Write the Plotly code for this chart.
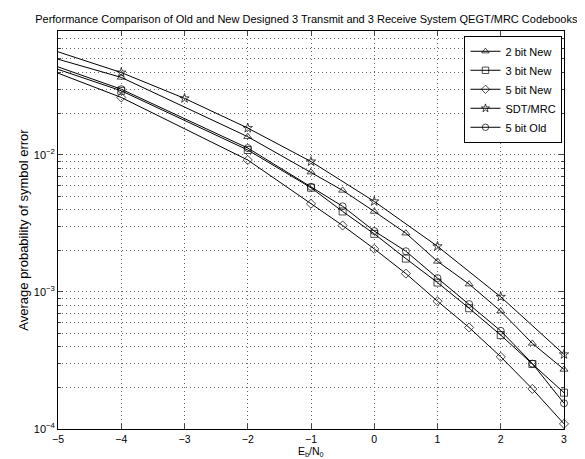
import plotly.graph_objects as go

# ---- data ----
x_2bit = [-5, -4, -2, -1, -0.5, 0, 0.5, 1, 1.5, 2, 2.5, 3]
y_2bit = [0.0498, 0.0367, 0.01355, 0.00747, 0.00550, 0.00386, 0.00268, 0.00167, 0.00114, 0.000724, 0.000421, 0.000272]

x_3bit = [-5, -4, -2, -1, -0.5, 0, 0.5, 1, 1.5, 2, 2.5, 3]
y_3bit = [0.0420, 0.0293, 0.01084, 0.00575, 0.00386, 0.00265, 0.00175, 0.00117, 0.000760, 0.000484, 0.000298, 0.000184]

x_5bit = [-5, -4, -2, -1, -0.5, 0, 0.5, 1, 1.5, 2, 2.5, 3]
y_5bit = [0.0394, 0.0262, 0.00916, 0.00439, 0.00305, 0.00206, 0.00136, 0.000855, 0.000550, 0.000336, 0.000196, 0.000109]

x_sdt = [-5, -4, -3, -2, -1, 0, 1, 2, 3]
y_sdt = [0.0564, 0.0398, 0.0258, 0.01567, 0.00893, 0.00457, 0.00215, 0.000920, 0.000350]

x_5old = [-5, -4, -2, -1, -0.5, 0, 0.5, 1, 1.5, 2, 2.5, 3]
y_5old = [0.0438, 0.0301, 0.0112, 0.00585, 0.00421, 0.00278, 0.00198, 0.00126, 0.000815, 0.000520, 0.000300, 0.000154]

series_names = ["2 bit New", "3 bit New", "5 bit New", "SDT/MRC", "5 bit Old"]
series_symbols = ["triangle-up-open", "square-open", "diamond-open", "star-open", "circle-open"]
series_x = [x_2bit, x_3bit, x_5bit, x_sdt, x_5old]
series_y = [y_2bit, y_3bit, y_5bit, y_sdt, y_5old]

x_ticks = [-5, -4, -3, -2, -1, 0, 1, 2, 3]
y_major = [1e-4, 1e-3, 1e-2]
y_major_text = ["10<sup>\u22124</sup>", "10<sup>\u22123</sup>", "10<sup>\u22122</sup>"]
y_minor = [m * d for d in (1e-4, 1e-3, 1e-2) for m in range(2, 10)]

fig = go.Figure()
for name, xs, ys, sym in zip(series_names, series_x, series_y, series_symbols):
    sizes = [0 if xv == -5 else 7 for xv in xs]
    fig.add_trace(go.Scatter(
        x=xs, y=ys, name=name, mode="lines+markers",
        line=dict(color="black", width=1),
        marker=dict(symbol=sym, size=sizes, color="black", line=dict(width=1, color="black")),
        cliponaxis=False,
    ))

font = "Liberation Sans, Arial, Helvetica, sans-serif"
grid_col = "#666"
grid_dash = "1px,3px"

fig.update_layout(
    width=585, height=459,
    margin=dict(l=50, r=29, t=23, b=38),
    paper_bgcolor="white", plot_bgcolor="white",
    font=dict(family=font, size=11, color="black"),
    title=dict(text="Performance Comparison of Old and New Designed 3 Transmit and 3 Receive System QEGT/MRC Codebooks",
               x=0.51, xref="container", xanchor="center", y=0.975, yref="container", yanchor="middle",
               font=dict(size=11)),
    showlegend=True,
    legend=dict(x=0.997, xanchor="right", y=0.988, yanchor="top",
                bordercolor="black", borderwidth=1, bgcolor="white",
                font=dict(size=11), itemwidth=30, tracegroupgap=0),
    annotations=[dict(text="E<sub>b</sub>/N<sub>0</sub>", xref="paper", yref="paper",
                      x=0.5, y=-0.078, xanchor="center", yanchor="bottom", showarrow=False,
                      borderpad=0, font=dict(size=10.5))],
)
fig.update_xaxes(
    range=[-5, 3], tickvals=x_ticks, ticks="inside", ticklen=5, mirror="ticks",
    showline=True, linecolor="black", linewidth=1, tickfont=dict(size=10.5),
    showgrid=True, gridcolor=grid_col, griddash=grid_dash, gridwidth=1, zeroline=False,
)
fig.update_yaxes(
    type="log", range=[-4, -1.097], tickvals=y_major, ticktext=y_major_text,
    ticks="inside", ticklen=5, mirror="ticks",
    showline=True, linecolor="black", linewidth=1,
    showgrid=True, gridcolor=grid_col, griddash=grid_dash, gridwidth=1,
    minor=dict(tickmode="array", tickvals=y_minor, ticks="inside", ticklen=3,
               showgrid=True, gridcolor=grid_col, griddash=grid_dash, gridwidth=1),
    title=dict(text="Average probability of symbol error", standoff=2),
)
fig.write_html("out.html")
